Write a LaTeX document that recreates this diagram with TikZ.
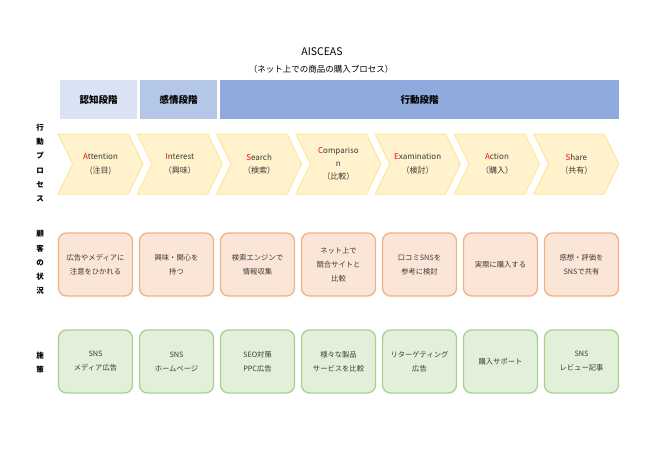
\documentclass[tikz,border=0pt]{standalone}
\usepackage{fontspec}
\setmainfont{Noto Sans CJK JP}
\usetikzlibrary{shapes.symbols}
\definecolor{stageA}{HTML}{DAE3F3}
\definecolor{stageB}{HTML}{B4C7E7}
\definecolor{stageC}{HTML}{8FAADC}
\definecolor{chevfill}{HTML}{FFF2CC}
\definecolor{chevline}{HTML}{FFE699}
\definecolor{custfill}{HTML}{FBE5D6}
\definecolor{custline}{HTML}{F4B183}
\definecolor{measfill}{HTML}{E2F0D9}
\definecolor{measline}{HTML}{A9D18E}
\definecolor{txt}{HTML}{3A3A3A}
\tikzset{
  stage/.style={fill=#1, minimum height=39pt, inner sep=0pt, font=\bfseries\fontsize{9.5}{11}\selectfont},
  sidelabel/.style={align=center, font=\bfseries\fontsize{7.5}{14.2}\selectfont},
  chevron/.style={signal, signal from=west, signal to=east, signal pointer angle=128,
    draw=chevline, fill=chevfill, line width=1pt, minimum width=85pt, minimum height=60pt,
    inner sep=0pt, align=center, text=txt, font=\fontsize{8}{12.5}\selectfont},
  card/.style={draw=#1line, fill=#1fill, line width=1.3pt, rounded corners=8pt,
    minimum width=74pt, minimum height=63pt, inner sep=0pt, align=center, text=txt,
    font=\fontsize{7.3}{14}\selectfont},
}
\begin{document}
\begin{tikzpicture}[x=1pt,y=-1pt]
    \fill[white] (0,0) rectangle (650,460);
    \useasboundingbox (0,0) rectangle (650,460);
    \node (title) at (322,52) {\fontsize{10.5}{12}\selectfont AISCEAS};
    \node (subtitle) at (321,69) {\fontsize{8.5}{10}\selectfont （ネット上での商品の購入プロセス）};
    % stages
    \node[stage=stageA, minimum width=77pt] (s1) at (98.5,99.5) {認知段階};
    \node[stage=stageB, minimum width=77pt] (s2) at (178.5,99.5) {感情段階};
    \node[stage=stageC, minimum width=399pt] (s3) at (419.5,99.5) {行動段階};
    % row labels
    \node[sidelabel] (l1) at (40,163) {行\\動\\プ\\ロ\\セ\\ス};
    \node[sidelabel] (l2) at (40,262.5) {顧\\客\\の\\状\\況};
    \node[sidelabel] (l3) at (40,362.5) {施\\策};
    % process
    \foreach \h/\w/\k [count=\i from 0] in {A/ttention/(注目), I/nterest/（興味）, S/earch/（検索）,
        C/ompariso\\n/（比較）, E/xamination/（検討）, A/ction/（購入）, S/hare/（共有）}
        \node[chevron] (p\i) at ({100.5+79.3*\i},164) {\textcolor{red}{\h}\w\\[1pt]\k};
    % customer
    \foreach \w [count=\i from 0] in {{広告やメディアに\\注意をひかれる}, {興味・関心を\\持つ},
        {検索エンジンで\\情報収集}, {ネット上で\\競合サイトと\\比較}, {口コミSNSを\\参考に検討},
        {実際に購入する}, {感想・評価を\\SNSで共有}}
        \node[card=cust] (c\i) at ({95.5+81*\i},264.5) {\w};
    % measures
    \foreach \w [count=\i from 0] in {{SNS\\メディア広告}, {SNS\\ホームページ}, {SEO対策\\PPC広告},
        {様々な製品\\サービスを比較}, {リターゲティング\\広告}, {購入サポート}, {SNS\\レビュー記事}}
        \node[card=meas] (m\i) at ({95.5+81*\i},361.5) {\w};
\end{tikzpicture}
\end{document}
